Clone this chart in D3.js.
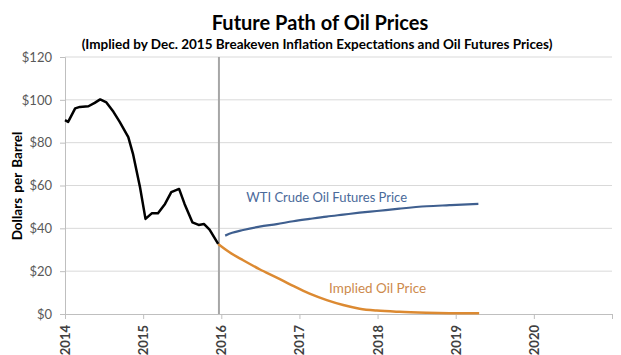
<!DOCTYPE html>
<html><head><meta charset="utf-8">
<script src="https://cdn.jsdelivr.net/npm/d3@7"></script>
<style>
html,body{margin:0;padding:0;background:#fff;}
svg{display:block;font-family:Lato,"Open Sans",sans-serif;}
</style></head>
<body><svg id="chart" width="621" height="355"></svg>
<script>
// ---- data ----
const histYears = [2014.00,2014.04,2014.13,2014.19,2014.30,2014.38,2014.45,2014.53,2014.62,2014.70,2014.81,2014.87,2014.96,2015.03,2015.11,2015.19,2015.28,2015.36,2015.46,2015.53,2015.63,2015.71,2015.78,2015.85,2015.96];
const histPrice = [90.5,89.7,96.0,96.7,97.0,98.6,100.2,98.8,94.4,89.7,82.6,74.8,59.2,44.4,47.0,47.0,51.4,56.9,58.4,51.4,42.8,41.6,42.0,39.4,32.7];
const futYears  = [2016.05,2016.14,2016.28,2016.49,2016.71,2016.92,2017.13,2017.35,2017.56,2017.77,2017.99,2018.28,2018.63,2018.92,2019.29];
const futPrice  = [36.6,37.9,39.2,40.8,42.0,43.3,44.4,45.5,46.4,47.3,48.1,49.2,50.3,50.8,51.4];
const implYears = [2015.96,2016.11,2016.28,2016.49,2016.71,2016.92,2017.13,2017.35,2017.56,2017.77,2017.99,2018.28,2018.63,2018.92,2019.30];
const implPrice = [32.7,28.7,25.1,20.9,17.0,13.1,9.5,6.5,4.2,2.5,1.6,1.0,0.6,0.4,0.3];
const yTicks = [0,20,40,60,80,100,120];
const xTicks = [2014,2015,2016,2017,2018,2019,2020,2021];
const xLabels = ["2014","2015","2016","2017","2018","2019","2020"];
const forecastStart = 2015.97;
const titleText = "Future Path of Oil Prices";
const subtitleText = "(Implied by Dec. 2015 Breakeven Inflation Expectations and Oil Futures Prices)";
const yTitle = "Dollars per Barrel";
const futLabel = "WTI Crude Oil Futures Price";
const implLabel = "Implied Oil Price";

// ---- chart ----
const svg = d3.select("#chart");
const x = d3.scaleLinear().domain([2014,2021]).range([65,612]);
const y = d3.scaleLinear().domain([0,120]).range([314,57]);

// gridlines
svg.append("g").selectAll("line").data(yTicks.filter(d=>d>0)).join("line")
  .attr("x1",x(2014)).attr("x2",x(2021))
  .attr("y1",d=>y(d)).attr("y2",d=>y(d))
  .attr("stroke","#d9d9d9").attr("stroke-width",1);

// y axis
const yAxis = d3.axisLeft(y).tickValues(yTicks).tickSize(5).tickPadding(8).tickFormat(d=>"$"+d);
const gy = svg.append("g").attr("transform",`translate(${x(2014)},0)`).call(yAxis);
gy.select(".domain").attr("stroke","#bfbfbf");
gy.selectAll(".tick line").attr("stroke","#bfbfbf");
gy.selectAll("text").attr("font-size",13).attr("fill","#595959").attr("font-family","Lato, sans-serif");

// x axis
const xAxis = d3.axisBottom(x).tickValues(xTicks).tickSize(5).tickFormat("");
const gx = svg.append("g").attr("transform",`translate(0,${y(0)})`).call(xAxis);
gx.select(".domain").attr("stroke","#bfbfbf");
gx.selectAll(".tick line").attr("stroke","#bfbfbf");
svg.append("g").selectAll("text").data(xLabels).join("text")
  .attr("transform",d=>`translate(${x(+d)+5},${y(0)+11}) rotate(-90)`)
  .attr("text-anchor","end")
  .attr("font-size",13).attr("font-weight","bold").attr("fill","#404040")
  .text(d=>d);

// forecast divider
svg.append("line").attr("x1",x(forecastStart)).attr("x2",x(forecastStart))
  .attr("y1",y(120)).attr("y2",y(0)).attr("stroke","#a6a6a6").attr("stroke-width",2);

// lines
const line = d3.line().x(d=>x(d[0])).y(d=>y(d[1]));
const smooth = d3.line().x(d=>x(d[0])).y(d=>y(d[1])).curve(d3.curveMonotoneX);
svg.append("path").datum(implYears.map((d,i)=>[d,implPrice[i]]))
  .attr("d",smooth).attr("fill","none").attr("stroke","#dc8a32").attr("stroke-width",2.5);
svg.append("path").datum(futYears.map((d,i)=>[d,futPrice[i]]))
  .attr("d",smooth).attr("fill","none").attr("stroke","#3f5f8f").attr("stroke-width",2.2);
svg.append("path").datum(histYears.map((d,i)=>[d,histPrice[i]]))
  .attr("d",line).attr("fill","none").attr("stroke","#000").attr("stroke-width",2.5)
  .attr("stroke-linejoin","round");

// series labels
svg.append("text").attr("x",x(2016.32)).attr("y",y(52.5)).attr("font-size",13)
  .attr("fill","#4a6a9a").text(futLabel);
svg.append("text").attr("x",x(2017.38)).attr("y",y(10)).attr("font-size",13.5)
  .attr("fill","#cd8a4c").text(implLabel);

// titles
svg.append("text").attr("x",320).attr("y",30).attr("text-anchor","middle")
  .attr("font-size",20).attr("font-weight","bold").attr("fill","#000").text(titleText);
const sub = svg.append("text").attr("x",317).attr("y",49).attr("text-anchor","middle")
  .attr("font-size",12).attr("font-weight","bold").attr("fill","#000").text(subtitleText);
const sw = sub.node().getComputedTextLength();
if (sw>0) sub.attr("font-size",12*471/sw);

svg.append("text").attr("transform",`translate(22,186) rotate(-90)`)
  .attr("text-anchor","middle").attr("font-size",13.5).attr("font-weight","bold")
  .attr("word-spacing",2).attr("fill","#000").text(yTitle);
</script></body></html>
